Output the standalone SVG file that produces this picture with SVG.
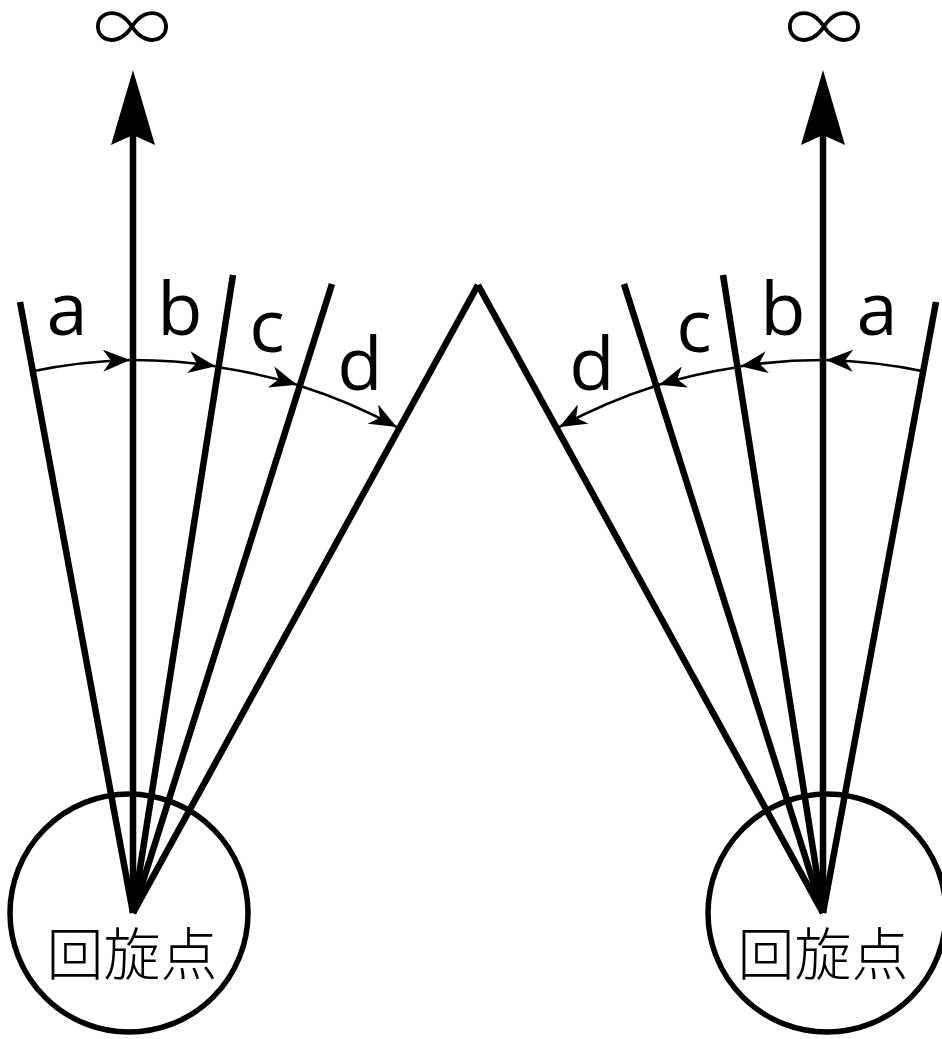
<svg xmlns="http://www.w3.org/2000/svg" width="942" height="1039" viewBox="0 0 942 1039">
<style>
.ln{stroke:#000;stroke-width:6.5;fill:none;stroke-linecap:butt}
.arc{stroke:#000;stroke-width:2.6;fill:none}
.circ{stroke:#000;stroke-width:5.5;fill:none}
.lbl{font-family:"Open Sans","Liberation Sans",sans-serif;font-size:74px;fill:#000;text-anchor:middle}
.inf{font-family:"Noto Sans CJK JP","Noto Sans CJK SC",sans-serif;font-weight:300;font-size:78px;fill:#000;text-anchor:middle}
.cjk{font-family:"Noto Sans CJK JP","Noto Sans CJK SC",sans-serif;font-weight:300;font-size:57px;fill:#000;text-anchor:middle}
</style>
<defs>
<marker id="ah" markerUnits="userSpaceOnUse" viewBox="0 0 28 22" markerWidth="28" markerHeight="22" refX="27" refY="11" orient="auto">
<path d="M0,0 L27,11 L0,22 L8,11 z" fill="#000"/>
</marker>
<g id="side">
<circle class="circ" cx="129" cy="913" r="119"/>
<line class="ln" x1="20" y1="302" x2="133" y2="913"/>
<line class="ln" x1="233" y1="275" x2="133" y2="913"/>
<line class="ln" x1="332" y1="284" x2="133" y2="913"/>
<line class="ln" x1="478" y1="285" x2="133" y2="913"/>
<line class="ln" x1="133" y1="135" x2="133" y2="913"/>
<path d="M133,70 L155,145 L133,135 L111,145 z" fill="#000"/>
<path class="arc" d="M32.8,371.2 A553,553 0 0 1 130,360" marker-end="url(#ah)"/>
<path class="arc" d="M133,360 A553,553 0 0 1 215.5,366.2" marker-end="url(#ah)"/>
<path class="arc" d="M221.6,367.8 A553,553 0 0 1 296.9,384.7" marker-end="url(#ah)"/>
<path class="arc" d="M299.8,385.7 A553,553 0 0 1 396.6,426.9" marker-end="url(#ah)"/>
</g>
</defs>
<g id="left-pivot">
<use href="#side"/>
<text class="inf" x="132" y="56">∞</text>
<text class="lbl" x="67" y="335">a</text>
<text class="lbl" x="180" y="335">b</text>
<text class="lbl" x="267" y="352">c</text>
<text class="lbl" x="360" y="390">d</text>
<text class="cjk" x="132" y="975">回旋点</text>
</g>
<g id="right-pivot">
<use href="#side" transform="matrix(-1 0 0 1 956 0)"/>
<text class="inf" x="824" y="56">∞</text>
<text class="lbl" x="877" y="335">a</text>
<text class="lbl" x="783" y="335">b</text>
<text class="lbl" x="694" y="352">c</text>
<text class="lbl" x="592" y="390">d</text>
<text class="cjk" x="823" y="975">回旋点</text>
</g>
</svg>
